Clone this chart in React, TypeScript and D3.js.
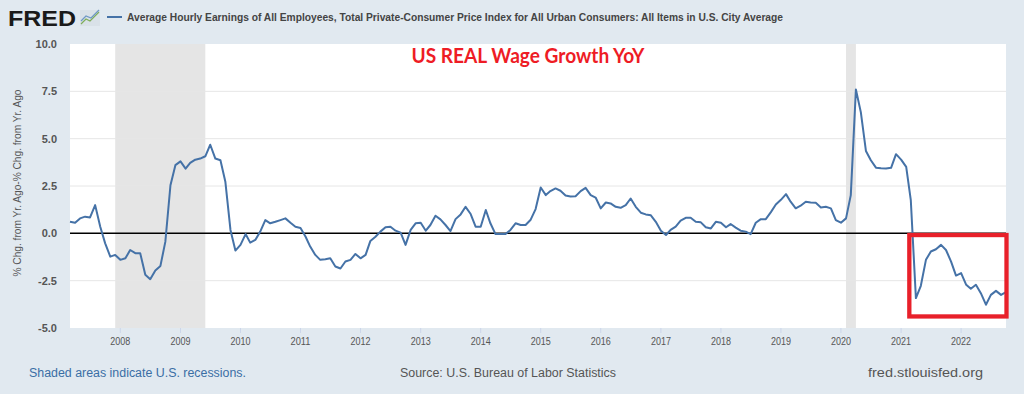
import React from "react";
import * as d3 from "d3";

// ---- data ----
const startMonth = "2007-03-01";
const endMonth = "2022-10-01";
const realWageGrowth: number[] = [
  0.61, 0.56, 0.79, 0.88, 0.84, 1.49, 0.35, -0.53, -1.23, -1.14,
  -1.4, -1.32, -0.88, -1.05, -1.05, -2.19, -2.42, -1.96, -1.72, -0.44,
  2.54, 3.6, 3.8, 3.42, 3.72, 3.89, 3.95, 4.07, 4.68, 3.95,
  3.86, 2.72, 0.18, -0.91, -0.61, -0.04, -0.49, -0.35, 0.09, 0.7,
  0.53, 0.61, 0.7, 0.79, 0.56, 0.35, 0.28, -0.18, -0.7, -1.14,
  -1.4, -1.37, -1.32, -1.75, -1.86, -1.49, -1.4, -1.09, -1.32, -1.14,
  -0.4, -0.18, 0.09, 0.32, 0.35, 0.14, 0.04, -0.61, 0.18, 0.53,
  0.56, 0.14, 0.44, 0.93, 0.74, 0.44, 0.12, 0.75, 1.0, 1.4,
  1.02, 0.35, 0.35, 1.23, 0.53, -0.04, -0.04, -0.04, 0.18, 0.53,
  0.44, 0.44, 0.72, 1.28, 2.42, 2.02, 2.23, 2.37, 2.25, 2.0,
  1.95, 1.96, 2.23, 2.4, 2.02, 1.89, 1.32, 1.63, 1.58, 1.4,
  1.35, 1.49, 1.84, 1.4, 1.09, 1.0, 0.95, 0.61, 0.14, -0.09,
  0.18, 0.35, 0.67, 0.82, 0.82, 0.61, 0.58, 0.32, 0.26, 0.61,
  0.56, 0.32, 0.49, 0.3, 0.14, 0.09, -0.04, 0.56, 0.75, 0.75,
  1.12, 1.52, 1.77, 2.07, 1.67, 1.32, 1.46, 1.67, 1.63, 1.61,
  1.37, 1.4, 1.32, 0.7, 0.56, 0.79, 2.02, 7.6, 6.4, 4.35,
  3.86, 3.47, 3.44, 3.42, 3.46, 4.18, 3.89, 3.51, 1.75, -3.42,
  -2.77, -1.4, -0.96, -0.84, -0.61, -0.88, -1.49, -2.23, -2.1, -2.72,
  -2.93, -2.72, -3.16, -3.77, -3.25, -3.04, -3.25, -3.1,
];
const recessionStarts = ["2007-12-01", "2020-02-01"];
const recessionEnds = ["2009-06-01", "2020-04-01"];
const yearTicks = [2008, 2009, 2010, 2011, 2012, 2013, 2014, 2015, 2016, 2017, 2018, 2019, 2020, 2021, 2022];
const yTicks = [-5, -2.5, 0, 2.5, 5, 7.5, 10];
const highlightStart = "2021-02-20";
const highlightEnd = "2022-10-01";
const highlightTop = -0.09;
const highlightBottom = -4.39;

const titleText = "US REAL Wage Growth YoY";
const legendText =
  "Average Hourly Earnings of All Employees, Total Private-Consumer Price Index for All Urban Consumers: All Items in U.S. City Average";
const yAxisTitle = "% Chg. from Yr. Ago-% Chg. from Yr. Ago";

const W = 1024;
const H = 394;
const plot = { left: 70, right: 1006, top: 44, bottom: 328 };

export default function App() {
  const parse = d3.timeParse("%Y-%m-%d");
  const start = parse(startMonth)!;
  const dates = realWageGrowth.map((_, i) => d3.timeMonth.offset(start, i));
  const x = d3.scaleTime().domain([start, parse(endMonth)!]).range([plot.left, plot.right]);
  const y = d3.scaleLinear().domain([-5, 10]).range([plot.bottom, plot.top]);
  const line = d3
    .line<number>()
    .x((_, i) => x(dates[i]))
    .y((d) => y(d));

  const font = "'Liberation Sans', Arial, sans-serif";
  const hx0 = x(parse(highlightStart)!);
  const hx1 = x(parse(highlightEnd)!);

  return (
    <svg width={W} height={H} style={{ position: "absolute", left: 0, top: 0 }} fontFamily={font}>
      <rect x={0} y={0} width={W} height={H} fill="#e1e9f0" />
      {/* header */}
      <text x={8} y={26} fontSize={22} fontWeight={900} fill="#1a1a1a" textLength={68} lengthAdjust="spacingAndGlyphs">
        FRED
      </text>
      <g>
        <rect x={80} y={10} width={20} height={16} fill="#d9e1e8" />
        <polyline points="81,24 86,19 90,21 99,12" fill="none" stroke="#7fae5a" strokeWidth={1.2} />
        <polyline points="81,21 86,16 91,18 99,10" fill="none" stroke="#6f98c4" strokeWidth={1.2} />
      </g>
      <line x1={107} x2={122} y1={17} y2={17} stroke="#4572a7" strokeWidth={2} />
      <text x={127} y={21} fontSize={11} fontWeight={700} fill="#444" textLength={656} lengthAdjust="spacingAndGlyphs">
        {legendText}
      </text>

      {/* plot area */}
      <rect x={plot.left} y={plot.top} width={plot.right - plot.left} height={plot.bottom - plot.top} fill="#ffffff" />
      {recessionStarts.map((s, i) => (
        <rect
          key={s}
          x={x(parse(s)!)}
          y={plot.top}
          width={x(parse(recessionEnds[i])!) - x(parse(s)!)}
          height={plot.bottom - plot.top}
          fill="#e5e5e5"
        />
      ))}
      {yTicks
        .filter((t) => t !== 0 && t !== -5 && t !== 10)
        .map((t) => (
          <line key={t} x1={plot.left} x2={plot.right} y1={y(t)} y2={y(t)} stroke="#e6e6e6" strokeWidth={1} />
        ))}
      <line x1={plot.left} x2={plot.right} y1={y(0)} y2={y(0)} stroke="#000" strokeWidth={1.5} />
      {yTicks.map((t) => (
        <text key={t} x={57} y={y(t) + 4} fontSize={11} fontWeight={700} fill="#555" textAnchor="end">
          {t.toFixed(1)}
        </text>
      ))}
      {yearTicks.map((yr) => {
        const xx = x(new Date(yr, 0, 1));
        return (
          <g key={yr}>
            <line x1={xx} x2={xx} y1={plot.bottom} y2={plot.bottom + 5} stroke="#ccd6eb" />
            <text x={xx} y={345} fontSize={10} fill="#555" textAnchor="middle" textLength={20} lengthAdjust="spacingAndGlyphs">
              {yr}
            </text>
          </g>
        );
      })}
      <text
        transform={`translate(21,183) rotate(-90)`}
        fontSize={11.5}
        fill="#555"
        textAnchor="middle"
        textLength={187}
        lengthAdjust="spacingAndGlyphs"
      >
        {yAxisTitle}
      </text>

      <path d={line(realWageGrowth)!} fill="none" stroke="#4572a7" strokeWidth={2} strokeLinejoin="round" />

      {/* annotations */}
      <text x={528} y={63} fontSize={20} fontWeight={700} fill="#ee1c25" textAnchor="middle" fontFamily="Lato, 'Open Sans', sans-serif" textLength={233} lengthAdjust="spacingAndGlyphs">
        {titleText}
      </text>
      <rect
        x={hx0}
        y={y(highlightTop)}
        width={hx1 - hx0 + 0.5}
        height={y(highlightBottom) - y(highlightTop)}
        fill="none"
        stroke="#e8202a"
        strokeWidth={4.3}
      />

      {/* footer */}
      <text x={29} y={377} fontSize={12} fill="#3a6ea5" textLength={217} lengthAdjust="spacingAndGlyphs">
        Shaded areas indicate U.S. recessions.
      </text>
      <text x={400} y={377} fontSize={12} fill="#555" textLength={216} lengthAdjust="spacingAndGlyphs">
        Source: U.S. Bureau of Labor Statistics
      </text>
      <text x={868} y={377} fontSize={12} fill="#555" textLength={115} lengthAdjust="spacingAndGlyphs">
        fred.stlouisfed.org
      </text>
    </svg>
  );
}
